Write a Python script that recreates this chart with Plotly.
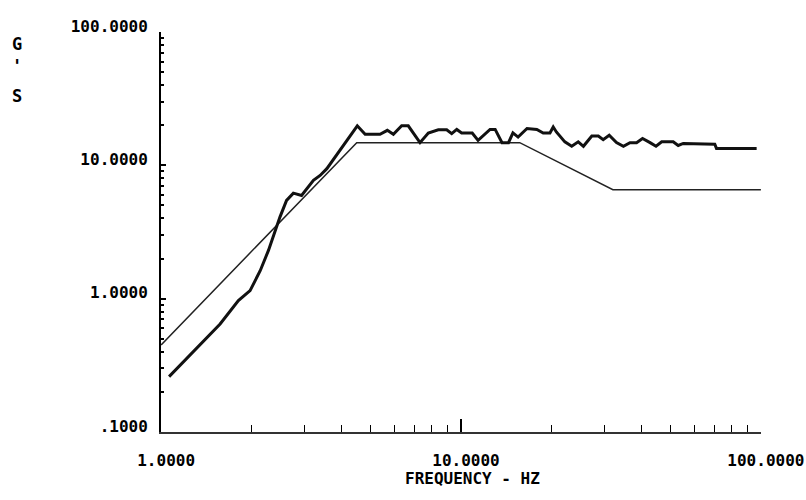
import plotly.graph_objects as go

# Specification (reference) profile
spec_freq = [1.0, 4.49, 15.7, 32.1, 100.0]
spec_gs = [0.45, 14.8, 14.8, 6.57, 6.57]

# Measured response
meas_freq = [1.063, 1.349, 1.573, 1.81, 1.98, 2.14, 2.28, 2.49, 2.62, 2.76, 2.94, 3.22, 3.39, 3.57,
             3.80, 4.0, 4.27, 4.51, 4.79, 5.37, 5.68, 5.95, 6.34, 6.67, 7.3, 7.78, 8.4, 8.96, 9.31,
             9.68, 10.05, 10.9, 11.4, 11.9, 12.5, 13.0, 13.7, 14.4, 14.9, 15.5, 16.6, 17.9, 18.8,
             19.8, 20.3, 20.8, 22.2, 23.4, 24.6, 25.6, 27.3, 28.7, 29.8, 31.2, 33.0, 34.8, 36.6,
             38.5, 40.3, 42.7, 44.7, 46.7, 51.0, 53.0, 55.1, 70.2, 71.1, 96.8]
meas_gs = [0.26, 0.456, 0.645, 0.966, 1.15, 1.62, 2.3, 4.09, 5.46, 6.19, 5.94, 7.71, 8.4, 9.44,
           11.5, 13.7, 16.8, 19.8, 17.1, 17.1, 18.3, 17.1, 19.8, 19.8, 14.8, 17.5, 18.5, 18.5, 17.3,
           18.6, 17.5, 17.5, 15.4, 16.8, 18.6, 18.6, 14.8, 14.8, 17.5, 16.3, 18.9, 18.6, 17.5,
           17.5, 19.4, 17.8, 15.0, 13.9, 15.0, 13.9, 16.6, 16.6, 15.6, 16.8, 14.8, 13.9, 14.8,
           14.8, 15.9, 14.8, 13.9, 15.0, 15.0, 14.1, 14.6, 14.4, 13.4, 13.4]

x_tickvals = [1, 10, 100]
x_ticktext = ["1.0000", "10.0000", "100.0000"]
y_tickvals = [0.1, 1, 10, 100]
y_ticktext = [".1000", "1.0000", "10.0000", "100.0000"]
x_minor = [2, 3, 4, 5, 6, 7, 8, 9, 20, 30, 40, 50, 60, 70, 80, 90]
y_minor = [0.2, 0.3, 0.4, 0.5, 0.6, 0.7, 0.8, 0.9, 2, 3, 4, 5, 6, 7, 8, 9,
           20, 30, 40, 50, 60, 70, 80, 90]

FONT = "DejaVu Sans Mono"

fig = go.Figure()
fig.add_trace(go.Scatter(x=spec_freq, y=spec_gs, mode="lines",
                         line=dict(color="#222222", width=1.5), showlegend=False))
fig.add_trace(go.Scatter(x=meas_freq, y=meas_gs, mode="lines",
                         line=dict(color="#111111", width=3), showlegend=False))

fig.update_layout(
    width=806, height=500,
    margin=dict(l=161, r=45, t=32, b=68, autoexpand=False),
    paper_bgcolor="white", plot_bgcolor="white",
    font=dict(family=FONT, color="black"),
    xaxis=dict(
        type="log", range=[-0.0004, 2.0004], showgrid=False, zeroline=False,
        automargin=False,
        showline=True, linecolor="#333333", linewidth=2,
        tickvals=x_tickvals, ticktext=x_ticktext,
        ticks="inside", ticklen=13, tickwidth=1.5, tickcolor="black",
        tickfont=dict(family=FONT, size=16, weight="bold"),
        ticklabelshift=5, ticklabelstandoff=13, ticklabeloverflow="allow",
        minor=dict(tickvals=x_minor, ticks="inside", ticklen=7, tickwidth=1.2,
                   tickcolor="black", showgrid=False),
    ),
    yaxis=dict(
        type="log", range=[-1.0003, 2.0003], showgrid=False, zeroline=False,
        automargin=False,
        showline=True, linecolor="black", linewidth=2,
        tickvals=y_tickvals, ticktext=y_ticktext,
        ticks="inside", ticklen=5, tickwidth=2, tickcolor="black",
        tickfont=dict(family=FONT, size=16, weight="bold"),
        ticklabelshift=-6, ticklabelstandoff=8, ticklabeloverflow="allow",
        minor=dict(tickvals=y_minor, ticks="inside", ticklen=3, tickwidth=1.5,
                   tickcolor="black", showgrid=False),
    ),
    annotations=[
        dict(text="FREQUENCY - HZ", xref="paper", yref="paper", x=(472 - 161) / 600,
             y=-(478 - 432) / 400, xanchor="center", yanchor="middle", showarrow=False,
             font=dict(family=FONT, size=16, weight="bold")),
        dict(text="G", xref="paper", yref="paper", x=-(161 - 17) / 600,
             y=(432 - 44) / 400, xanchor="center", yanchor="middle", showarrow=False,
             font=dict(family=FONT, size=17, weight="bold")),
        dict(text="'", xref="paper", yref="paper", x=-(161 - 17) / 600,
             y=(432 - 66) / 400, xanchor="center", yanchor="middle", showarrow=False,
             font=dict(family=FONT, size=17, weight="bold")),
        dict(text="S", xref="paper", yref="paper", x=-(161 - 17) / 600,
             y=(432 - 96) / 400, xanchor="center", yanchor="middle", showarrow=False,
             font=dict(family=FONT, size=17, weight="bold")),
    ],
)

fig.write_html("out.html")
